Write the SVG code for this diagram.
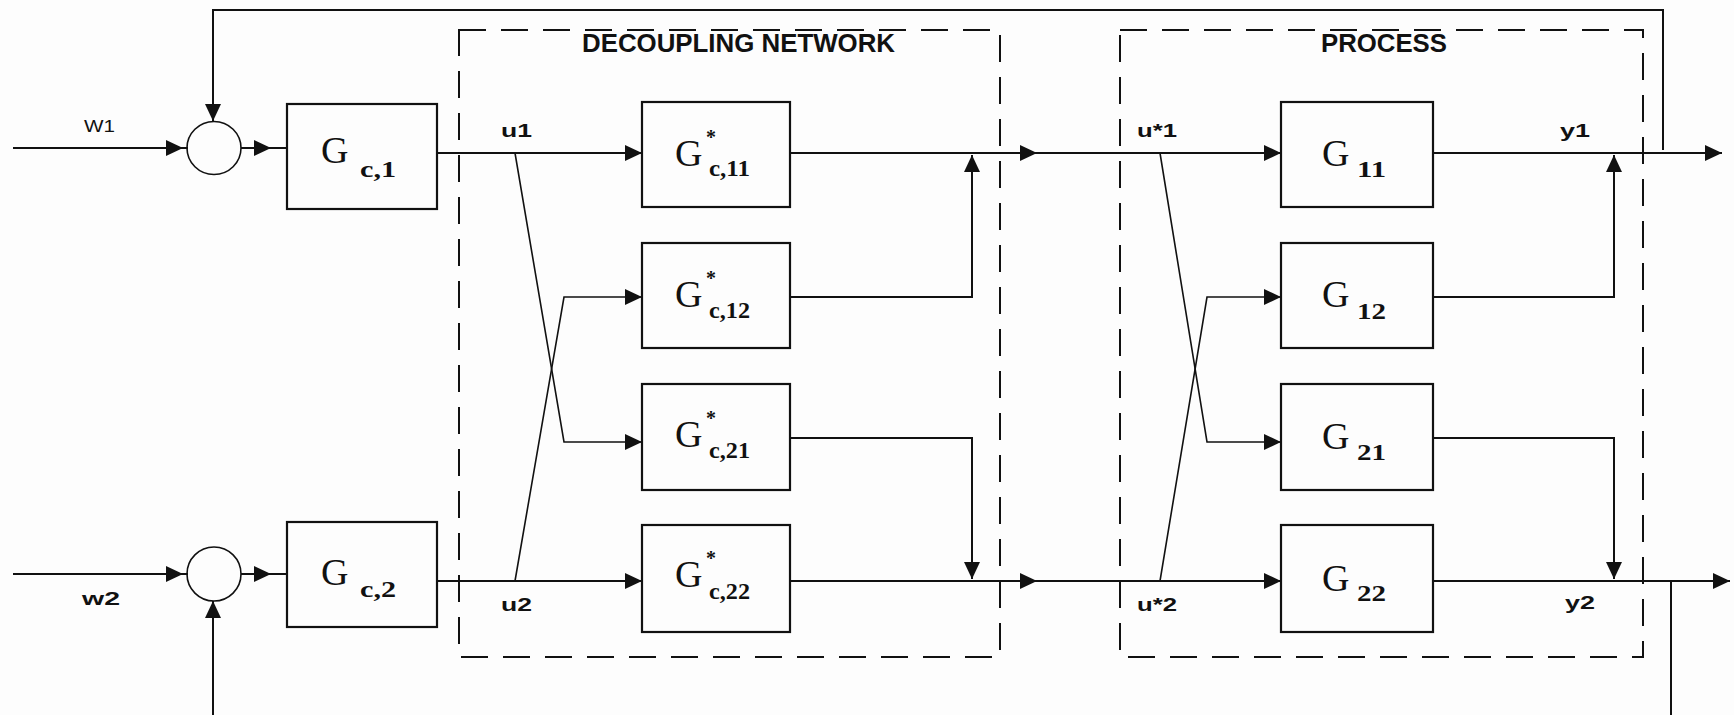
<svg xmlns="http://www.w3.org/2000/svg" width="1734" height="715" viewBox="0 0 1734 715">
<style>
.bg{fill:#fdfdfd}
.blk{fill:none;stroke:#111;stroke-width:2.2}
.ln{fill:none;stroke:#111;stroke-width:2}
.thin{fill:none;stroke:#111;stroke-width:1.6}
.dash{fill:none;stroke:#111;stroke-width:2;stroke-dasharray:27 15}
.sum{fill:none;stroke:#111;stroke-width:1.6}
.G{font-family:"Liberation Serif","Times New Roman",serif;font-size:38px;fill:#111}
.sub{font-family:"Liberation Serif","Times New Roman",serif;font-size:23px;font-weight:bold;fill:#111}
.star{font-family:"Liberation Serif","Times New Roman",serif;font-size:20px;font-weight:bold;fill:#111}
.lab{font-family:"Liberation Sans",Arial,sans-serif;font-size:19px;font-weight:bold;fill:#111}
.labn{font-family:"Liberation Sans",Arial,sans-serif;font-size:17px;fill:#111}
.title{font-family:"Liberation Sans",Arial,sans-serif;font-size:25px;font-weight:bold;fill:#111}
</style>
<defs>
<marker id="arr" viewBox="0 0 17 16" refX="17" refY="8" markerWidth="17" markerHeight="16" markerUnits="userSpaceOnUse" orient="auto">
<path d="M0,0 L17,8 L0,16 z" fill="#111"/>
</marker>
</defs>
<rect class="bg" x="0" y="0" width="1734" height="715"/>

<g id="decoupling-network">
<rect class="dash" x="459" y="30" width="541" height="627"/>
<text class="title" x="582" y="52" textLength="313" lengthAdjust="spacingAndGlyphs">DECOUPLING NETWORK</text>
</g>
<g id="process">
<rect class="dash" x="1120" y="30" width="523" height="627"/>
<text class="title" x="1321" y="52" textLength="126" lengthAdjust="spacingAndGlyphs">PROCESS</text>
</g>

<g id="sum1"><ellipse class="sum" cx="214" cy="148" rx="27" ry="26.5"/></g>
<g id="sum2"><ellipse class="sum" cx="214" cy="574" rx="27" ry="27"/></g>

<g id="Gc1">
<rect class="blk" x="287" y="104" width="150" height="105"/>
<text class="G" x="321" y="163">G</text>
<text class="sub" x="360" y="177" textLength="36" lengthAdjust="spacingAndGlyphs">c,1</text>
</g>
<g id="Gc2">
<rect class="blk" x="287" y="522" width="150" height="105"/>
<text class="G" x="321" y="585">G</text>
<text class="sub" x="360" y="597" textLength="36" lengthAdjust="spacingAndGlyphs">c,2</text>
</g>

<g id="Gc11">
<rect class="blk" x="642" y="102" width="148" height="105"/>
<text class="G" x="675" y="166">G</text>
<text class="star" x="706" y="144">*</text>
<text class="sub" x="709" y="176" textLength="41" lengthAdjust="spacingAndGlyphs">c,11</text>
</g>
<g id="Gc12">
<rect class="blk" x="642" y="243" width="148" height="105"/>
<text class="G" x="675" y="307">G</text>
<text class="star" x="706" y="285">*</text>
<text class="sub" x="709" y="318" textLength="41" lengthAdjust="spacingAndGlyphs">c,12</text>
</g>
<g id="Gc21">
<rect class="blk" x="642" y="384" width="148" height="106"/>
<text class="G" x="675" y="447">G</text>
<text class="star" x="706" y="425">*</text>
<text class="sub" x="709" y="458" textLength="41" lengthAdjust="spacingAndGlyphs">c,21</text>
</g>
<g id="Gc22">
<rect class="blk" x="642" y="525" width="148" height="107"/>
<text class="G" x="675" y="587">G</text>
<text class="star" x="706" y="565">*</text>
<text class="sub" x="709" y="599" textLength="41" lengthAdjust="spacingAndGlyphs">c,22</text>
</g>

<g id="G11">
<rect class="blk" x="1281" y="102" width="152" height="105"/>
<text class="G" x="1322" y="166">G</text>
<text class="sub" x="1357" y="177" textLength="29" lengthAdjust="spacingAndGlyphs">11</text>
</g>
<g id="G12">
<rect class="blk" x="1281" y="243" width="152" height="105"/>
<text class="G" x="1322" y="307">G</text>
<text class="sub" x="1357" y="319" textLength="29" lengthAdjust="spacingAndGlyphs">12</text>
</g>
<g id="G21">
<rect class="blk" x="1281" y="384" width="152" height="106"/>
<text class="G" x="1322" y="449">G</text>
<text class="sub" x="1357" y="460" textLength="29" lengthAdjust="spacingAndGlyphs">21</text>
</g>
<g id="G22">
<rect class="blk" x="1281" y="525" width="152" height="107"/>
<text class="G" x="1322" y="591">G</text>
<text class="sub" x="1357" y="601" textLength="29" lengthAdjust="spacingAndGlyphs">22</text>
</g>

<g id="connectors">
<path class="ln" d="M13,148 H183" marker-end="url(#arr)"/>
<path class="ln" d="M183,148 H188"/>
<path class="ln" d="M13,574 H183" marker-end="url(#arr)"/>
<path class="ln" d="M183,574 H188"/>
<path class="ln" d="M241,148 H271" marker-end="url(#arr)"/>
<path class="ln" d="M271,148 H287"/>
<path class="ln" d="M241,574 H271" marker-end="url(#arr)"/>
<path class="ln" d="M271,574 H287"/>
<path class="ln" d="M1663,150 V10 H213 V121" marker-end="url(#arr)"/>
<path class="ln" d="M213,715 V601" marker-end="url(#arr)"/>
<path class="ln" d="M1671,581 V715"/>
<path class="ln" d="M437,153 H642" marker-end="url(#arr)"/>
<path class="ln" d="M437,581 H642" marker-end="url(#arr)"/>
<path class="thin" d="M515,153 L564,442 H642" marker-end="url(#arr)"/>
<path class="thin" d="M515,581 L564,297 H642" marker-end="url(#arr)"/>
<path class="ln" d="M790,153 H1037" marker-end="url(#arr)"/>
<path class="ln" d="M1037,153 H1281" marker-end="url(#arr)"/>
<path class="ln" d="M790,581 H1037" marker-end="url(#arr)"/>
<path class="ln" d="M1037,581 H1281" marker-end="url(#arr)"/>
<path class="ln" d="M790,297 H972 V155" marker-end="url(#arr)"/>
<path class="ln" d="M790,438 H972 V579" marker-end="url(#arr)"/>
<path class="thin" d="M1160,153 L1207,442 H1281" marker-end="url(#arr)"/>
<path class="thin" d="M1160,581 L1207,297 H1281" marker-end="url(#arr)"/>
<path class="ln" d="M1433,153 H1722" marker-end="url(#arr)"/>
<path class="ln" d="M1433,581 H1730" marker-end="url(#arr)"/>
<path class="ln" d="M1433,297 H1614 V155" marker-end="url(#arr)"/>
<path class="ln" d="M1433,438 H1614 V579" marker-end="url(#arr)"/>
</g>

<g id="labels">
<text class="labn" x="84" y="132" textLength="31" lengthAdjust="spacingAndGlyphs">W1</text>
<text class="lab" x="82" y="605" textLength="38" lengthAdjust="spacingAndGlyphs">w2</text>
<text class="lab" x="501" y="137" textLength="31" lengthAdjust="spacingAndGlyphs">u1</text>
<text class="lab" x="501" y="611" textLength="31" lengthAdjust="spacingAndGlyphs">u2</text>
<text class="lab" x="1137" y="137" textLength="40" lengthAdjust="spacingAndGlyphs">u*1</text>
<text class="lab" x="1137" y="611" textLength="40" lengthAdjust="spacingAndGlyphs">u*2</text>
<text class="lab" x="1560" y="137" textLength="30" lengthAdjust="spacingAndGlyphs">y1</text>
<text class="lab" x="1565" y="609" textLength="30" lengthAdjust="spacingAndGlyphs">y2</text>
</g>
</svg>
